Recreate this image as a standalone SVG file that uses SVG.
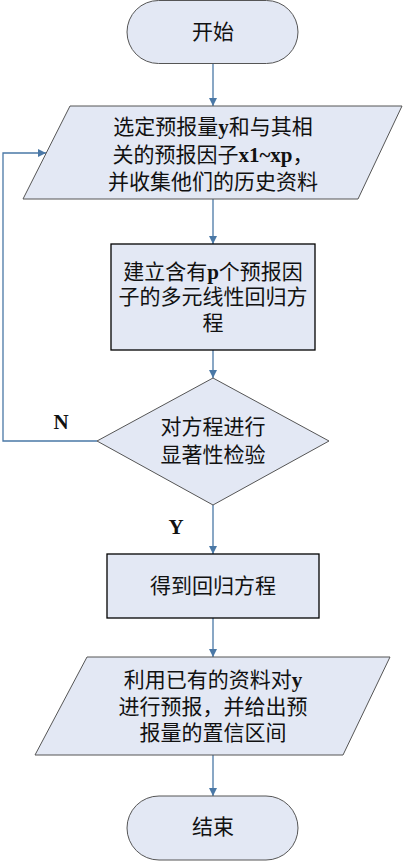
<svg xmlns="http://www.w3.org/2000/svg" width="404" height="861" viewBox="0 0 404 861">
<defs>
<style>
.shape{fill:#e3e8f4;stroke:#555;stroke-width:1}
.box{fill:#e3e8f4;stroke:#000;stroke-width:1.3}
.t{font-family:"Liberation Serif","Noto Sans CJK SC",serif;font-size:21px;fill:#111;text-anchor:middle;dominant-baseline:central}
.lbl{font-family:"Liberation Serif",serif;font-size:21px;font-weight:bold;fill:#111;text-anchor:middle;dominant-baseline:central}
.b{font-weight:bold}
.c{fill:none;stroke:#4a78a6;stroke-width:1.3}
</style>
<marker id="ah" viewBox="0 0 10 10" refX="10" refY="5" markerWidth="8" markerHeight="8" markerUnits="userSpaceOnUse" orient="auto">
<path d="M0,0 L10,5 L0,10 z" fill="#4a78a6"/>
</marker>
</defs>
<rect width="404" height="861" fill="#fff"/>
<g id="connectors">
<line class="c" x1="213" y1="63" x2="213" y2="106" marker-end="url(#ah)"/>
<line class="c" x1="213" y1="199" x2="213" y2="244" marker-end="url(#ah)"/>
<line class="c" x1="213" y1="350" x2="213" y2="378" marker-end="url(#ah)"/>
<polyline class="c" points="97,441 3,441 3,153 46,153" marker-end="url(#ah)"/>
<line class="c" x1="213" y1="505" x2="213" y2="554" marker-end="url(#ah)"/>
<line class="c" x1="213" y1="618" x2="213" y2="657" marker-end="url(#ah)"/>
<line class="c" x1="213" y1="755" x2="213" y2="796" marker-end="url(#ah)"/>
<text class="lbl" x="61" y="422">N</text>
<text class="lbl" x="176" y="527">Y</text>
</g>
<g id="start">
<rect class="shape" x="127" y="0.5" width="171" height="63" rx="31.5" ry="31.5"/>
<text class="t" x="213" y="32">开始</text>
</g>
<g id="input">
<polygon class="shape" points="70,106 402,106 358,199 23,199"/>
<text class="t" x="213" y="127">选定预报量<tspan class="b">y</tspan>和与其相</text>
<text class="t" x="213" y="155">关的预报因子<tspan class="b">x1~xp</tspan>，</text>
<text class="t" x="213" y="182">并收集他们的历史资料</text>
</g>
<g id="build">
<rect class="box" x="111" y="244" width="204" height="106"/>
<text class="t" x="213" y="272">建立含有<tspan class="b">p</tspan>个预报因</text>
<text class="t" x="213" y="297">子的多元线性回归方</text>
<text class="t" x="213" y="323">程</text>
</g>
<g id="test">
<polygon class="shape" points="213,378 329,441 213,505 97,441"/>
<text class="t" x="213" y="427">对方程进行</text>
<text class="t" x="213" y="455">显著性检验</text>
</g>
<g id="result">
<rect class="box" x="107" y="554" width="212" height="64"/>
<text class="t" x="213" y="586">得到回归方程</text>
</g>
<g id="predict">
<polygon class="shape" points="87,657 390,657 343,755 35,755"/>
<text class="t" x="213" y="680">利用已有的资料对<tspan class="b">y</tspan></text>
<text class="t" x="213" y="707">进行预报，并给出预</text>
<text class="t" x="213" y="733">报量的置信区间</text>
</g>
<g id="end">
<rect class="shape" x="127" y="796" width="171" height="64" rx="32" ry="32"/>
<text class="t" x="213" y="827">结束</text>
</g>
</svg>
